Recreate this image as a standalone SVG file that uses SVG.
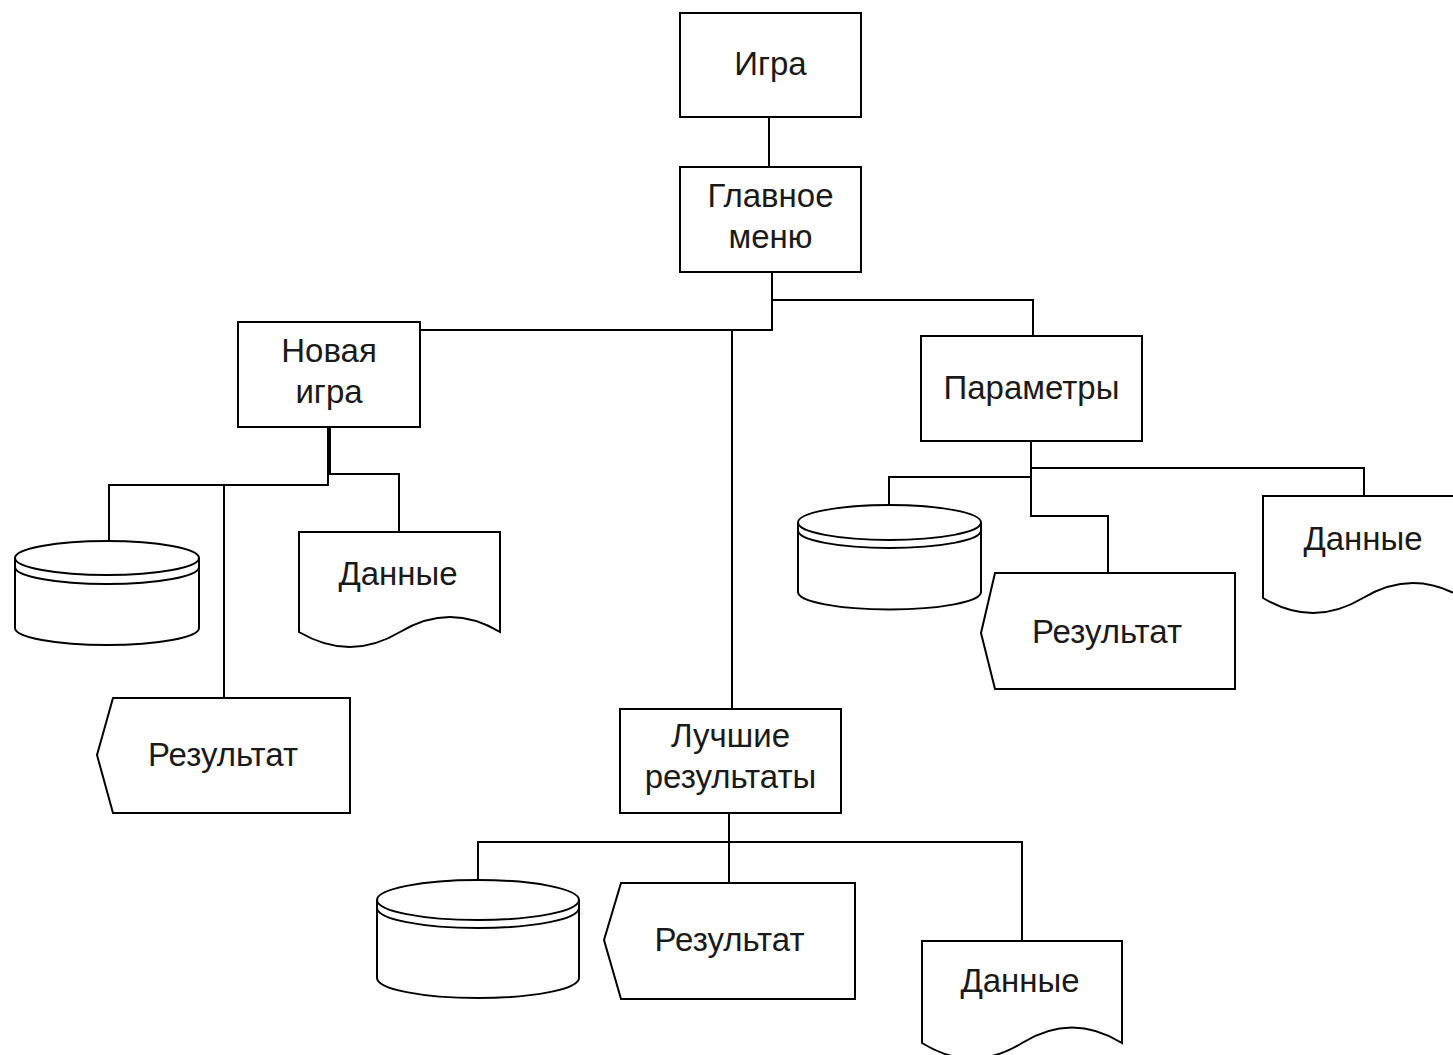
<svg xmlns="http://www.w3.org/2000/svg" width="1453" height="1055" viewBox="0 0 1453 1055">
<style>
.s{fill:#fff;stroke:#000;stroke-width:2}
.c{fill:none;stroke:#000;stroke-width:2}
.t{font-family:"Liberation Sans",Arial,sans-serif;font-size:33px;fill:#1a1a1a;text-anchor:middle}
</style>
<rect x="0" y="0" width="1453" height="1055" fill="#fff"/>
<g id="connectors">
<path class="c" d="M769,117 V167"/>
<path class="c" d="M772,272 V300 H1033 V336"/>
<path class="c" d="M772,300 V330 H420"/>
<path class="c" d="M772,330 H732 V709"/>
<path class="c" d="M330,427 V474 H399 V532"/>
<path class="c" d="M328,427 V485 H109 V541"/>
<path class="c" d="M328,485 H224 V698"/>
<path class="c" d="M1031,441 V468 H1364 V496"/>
<path class="c" d="M1031,468 V477 H889 V505"/>
<path class="c" d="M1031,477 V516 H1108 V573"/>
<path class="c" d="M729,813 V842 H478 V880"/>
<path class="c" d="M729,842 V883"/>
<path class="c" d="M729,842 H1022 V941"/>
</g>
<g id="igra">
<rect class="s" x="680" y="13" width="181" height="104"/>
<text class="t" x="770.5" y="75">Игра</text>
</g>
<g id="main-menu">
<rect class="s" x="680" y="167" width="181" height="105"/>
<text class="t" x="770.5" y="207">Главное</text>
<text class="t" x="770.5" y="248">меню</text>
</g>
<g id="new-game">
<rect class="s" x="238" y="322" width="182" height="105"/>
<text class="t" x="329" y="362">Новая</text>
<text class="t" x="329" y="403">игра</text>
</g>
<g id="params">
<rect class="s" x="921" y="336" width="221" height="105"/>
<text class="t" x="1031.5" y="399">Параметры</text>
</g>
<g id="best">
<rect class="s" x="620" y="709" width="221" height="104"/>
<text class="t" x="730.5" y="747">Лучшие</text>
<text class="t" x="730.5" y="788">результаты</text>
</g>
<g id="disk1">
<path class="s" d="M15,558 V628 A92,17 0 0 0 199,628 V558"/>
<ellipse class="s" cx="107" cy="558" rx="92" ry="17"/>
<path class="c" d="M15,567 A92,17 0 0 0 199,567"/>
</g>
<g id="data1">
<path class="s" d="M299,532 H500 V632 Q450,602 400,632 T299,632 Z"/>
<text class="t" x="398" y="585">Данные</text>
</g>
<g id="result1">
<path class="s" d="M113,698 H350 V813 H113 L97,755 Z"/>
<text class="t" x="223" y="766">Результат</text>
</g>
<g id="disk2">
<path class="s" d="M798,522.5 V592 A91.5,17.5 0 0 0 981,592 V522.5"/>
<ellipse class="s" cx="889.5" cy="522.5" rx="91.5" ry="17.5"/>
<path class="c" d="M798,530.5 A91.5,17.5 0 0 0 981,530.5"/>
</g>
<g id="result2">
<path class="s" d="M995,573 H1235 V689 H995 L981,633 Z"/>
<text class="t" x="1107" y="643">Результат</text>
</g>
<g id="data2">
<path class="s" d="M1263,496 H1463 V598 Q1413,568 1363,598 T1263,598 Z"/>
<text class="t" x="1363" y="550">Данные</text>
</g>
<g id="disk3">
<path class="s" d="M377,900 V978 A101,20 0 0 0 579,978 V900"/>
<ellipse class="s" cx="478" cy="900" rx="101" ry="20"/>
<path class="c" d="M377,908 A101,20 0 0 0 579,908"/>
</g>
<g id="result3">
<path class="s" d="M621,883 H855 V999 H621 L604,940 Z"/>
<text class="t" x="729.5" y="951">Результат</text>
</g>
<g id="data3">
<path class="s" d="M922,941 H1122 V1043 Q1072,1012 1022,1043 T922,1043 Z"/>
<text class="t" x="1020" y="992">Данные</text>
</g>
</svg>
